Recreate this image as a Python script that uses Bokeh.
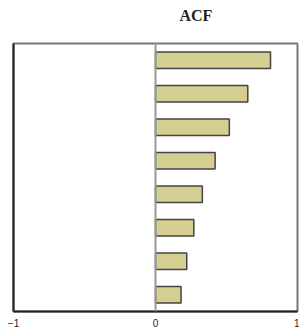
from bokeh.plotting import figure
from bokeh.models import Span, FixedTicker, ColumnDataSource
from bokeh.embed import file_html
from bokeh.resources import INLINE

lags = [1, 2, 3, 4, 5, 6, 7, 8]
acf = [0.81, 0.65, 0.52, 0.42, 0.33, 0.27, 0.22, 0.18]
x_ticks = [-1, 0, 1]
title_text = "ACF"

n = len(lags)
ypos = [n - l + 0.5 for l in lags]
src = ColumnDataSource(dict(y=ypos, right=acf, left=[0] * n))

p = figure(width=299, height=329, x_range=(-1, 1), y_range=(0, n),
           output_backend="svg", toolbar_location=None,
           min_border_left=13, min_border_right=2, min_border_top=43, min_border_bottom=17)
p.hbar(y="y", left="left", right="right", height=0.49, source=src,
       fill_color="#d4ce90", line_color="#444444", line_width=1.5)
p.add_layout(Span(location=0, dimension="height", line_color="#999999", line_width=2))

# the empty second line makes the title panel taller so the text sits near the top
p.title.text = title_text + "\n"
p.title.align = "left"
p.title.offset = 166
p.title.standoff = 2
p.title.vertical_align = "top"
p.title.text_font = "Liberation Serif"
p.title.text_font_style = "bold"
p.title.text_font_size = "16px"
p.title.text_color = "#222222"

p.xgrid.visible = False
p.ygrid.visible = False
p.outline_line_color = "#777777"
p.outline_line_width = 2
p.background_fill_color = "white"
p.border_fill_color = "white"

p.xaxis.ticker = FixedTicker(ticks=x_ticks)
p.xaxis.major_tick_out = 0
p.xaxis.major_tick_in = 0
p.xaxis.minor_tick_out = 0
p.xaxis.minor_tick_in = 0
p.xaxis.axis_line_color = "#222222"
p.xaxis.axis_line_width = 2
p.xaxis.major_label_text_font = "Liberation Sans"
p.xaxis.major_label_text_font_size = "10px"
p.xaxis.major_label_text_color = "#222222"
p.xaxis.major_label_standoff = 7

p.yaxis.ticker = FixedTicker(ticks=[])
p.yaxis.major_tick_out = 0
p.yaxis.minor_tick_out = 0
p.yaxis.major_label_text_font_size = "0px"
p.yaxis.axis_line_color = "#222222"
p.yaxis.axis_line_width = 2

open("out.html", "w").write(file_html(p, INLINE))
